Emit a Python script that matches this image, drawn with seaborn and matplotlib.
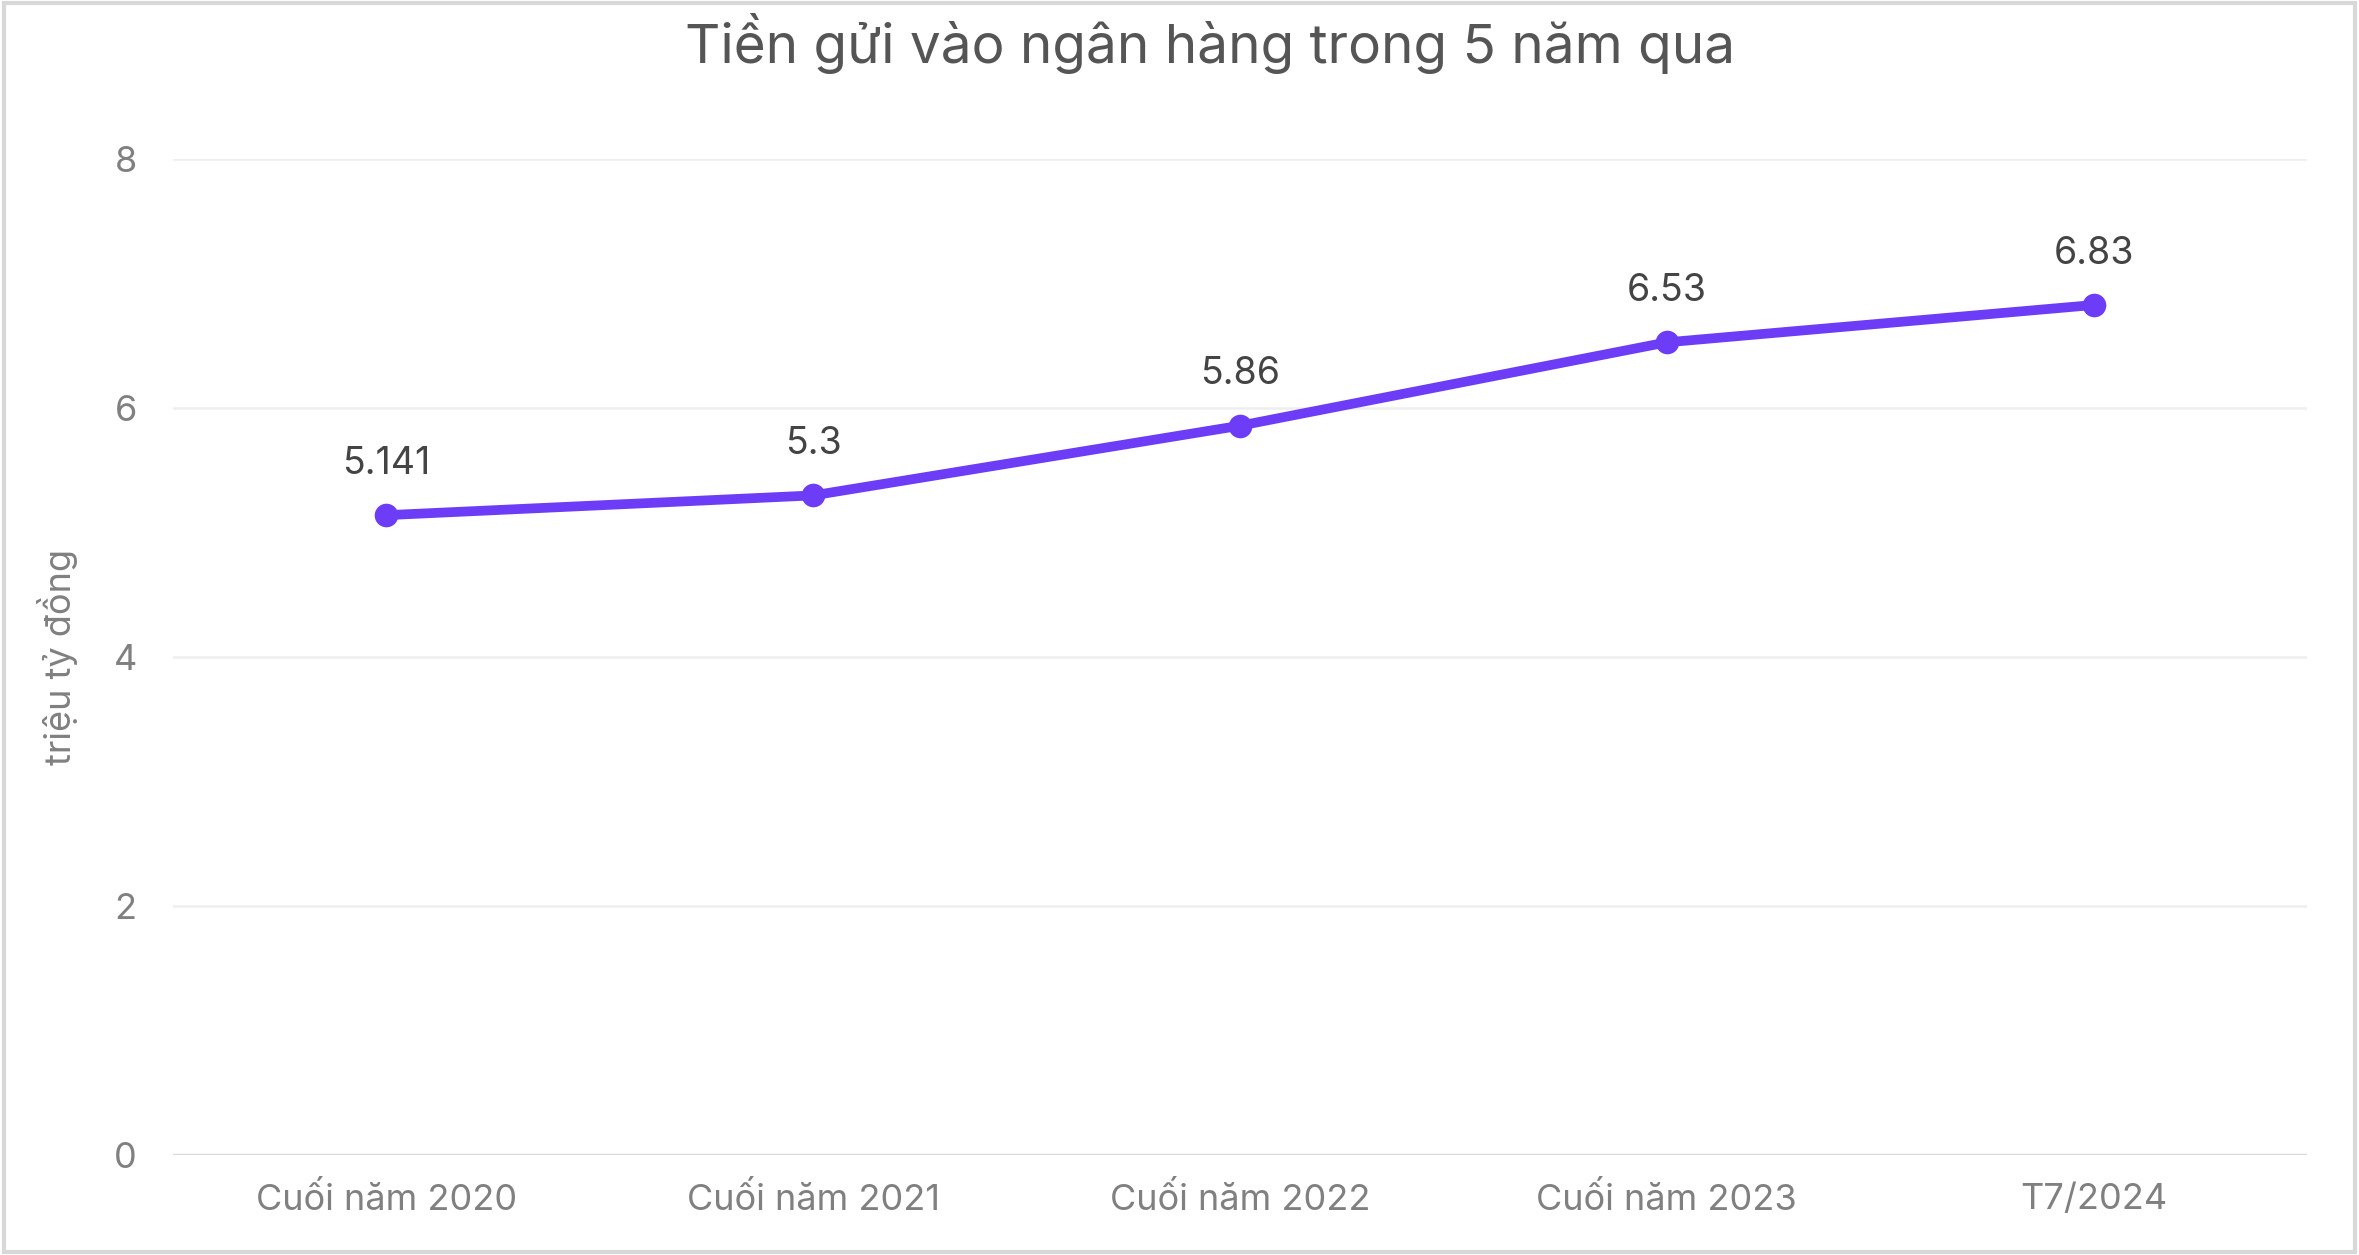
import matplotlib
matplotlib.use("Agg")
import matplotlib.pyplot as plt
import pandas as pd
import seaborn as sns

# du lieu doc tu hinh
moc_thoi_gian = ["Cuối năm 2020", "Cuối năm 2021", "Cuối năm 2022", "Cuối năm 2023", "T7/2024"]
tien_gui = [5.141, 5.3, 5.86, 6.53, 6.83]
nhan_gia_tri = ["5.141", "5.3", "5.86", "6.53", "6.83"]
y_ticks = [0, 2, 4, 6, 8]

sns.set_theme(style="white")
plt.rcParams["font.family"] = ["Inter", "DejaVu Sans"]

df = pd.DataFrame({"moc": moc_thoi_gian, "gia_tri": tien_gui})

fig = plt.figure(figsize=(23.59, 12.55), dpi=100)
ax = fig.add_axes([0.0733, 0.0797, 0.9047, 0.7933])

tim = "#6c3cf6"
sns.lineplot(data=df, x="moc", y="gia_tri", ax=ax, color=tim, linewidth=7,
             marker="o", markersize=17, markeredgewidth=0, sort=False)

for i, (v, s) in enumerate(zip(tien_gui, nhan_gia_tri)):
    ax.annotate(s, (i, v), xytext=(0, 24), textcoords="offset points",
                ha="center", va="bottom", fontsize=27, color="#444444")

ax.set_xlim(-0.5, len(moc_thoi_gian) - 0.5)
ax.set_ylim(0, 8)
ax.set_yticks(y_ticks)
for y in y_ticks:
    ax.axhline(y, color="#dcdcdc" if y == 0 else "#eeeeee", linewidth=2.5 if y == 0 else 1.8, zorder=0)

for sp in ax.spines.values():
    sp.set_visible(False)

ax.tick_params(axis="both", length=0, labelsize=26, labelcolor="#808080")
ax.tick_params(axis="x", pad=20)
ax.tick_params(axis="y", pad=26)
ax.set_xlabel("")
ax.set_ylabel("triệu tỷ đồng", fontsize=26, color="#808080")
ax.yaxis.set_label_coords(-0.0445, 0.5)

fig.text(0.513, 0.965, "Tiền gửi vào ngân hàng trong 5 năm qua", ha="center", va="center",
         fontsize=39.5, color="#555555")

# khung vien xam quanh hinh
fig.patches.append(plt.Rectangle((0.0015, 0.002), 0.997, 0.996, transform=fig.transFigure,
                                 fill=False, edgecolor="#d8d8d8", linewidth=3))

fig.savefig("out.png", dpi=100, facecolor="white")
